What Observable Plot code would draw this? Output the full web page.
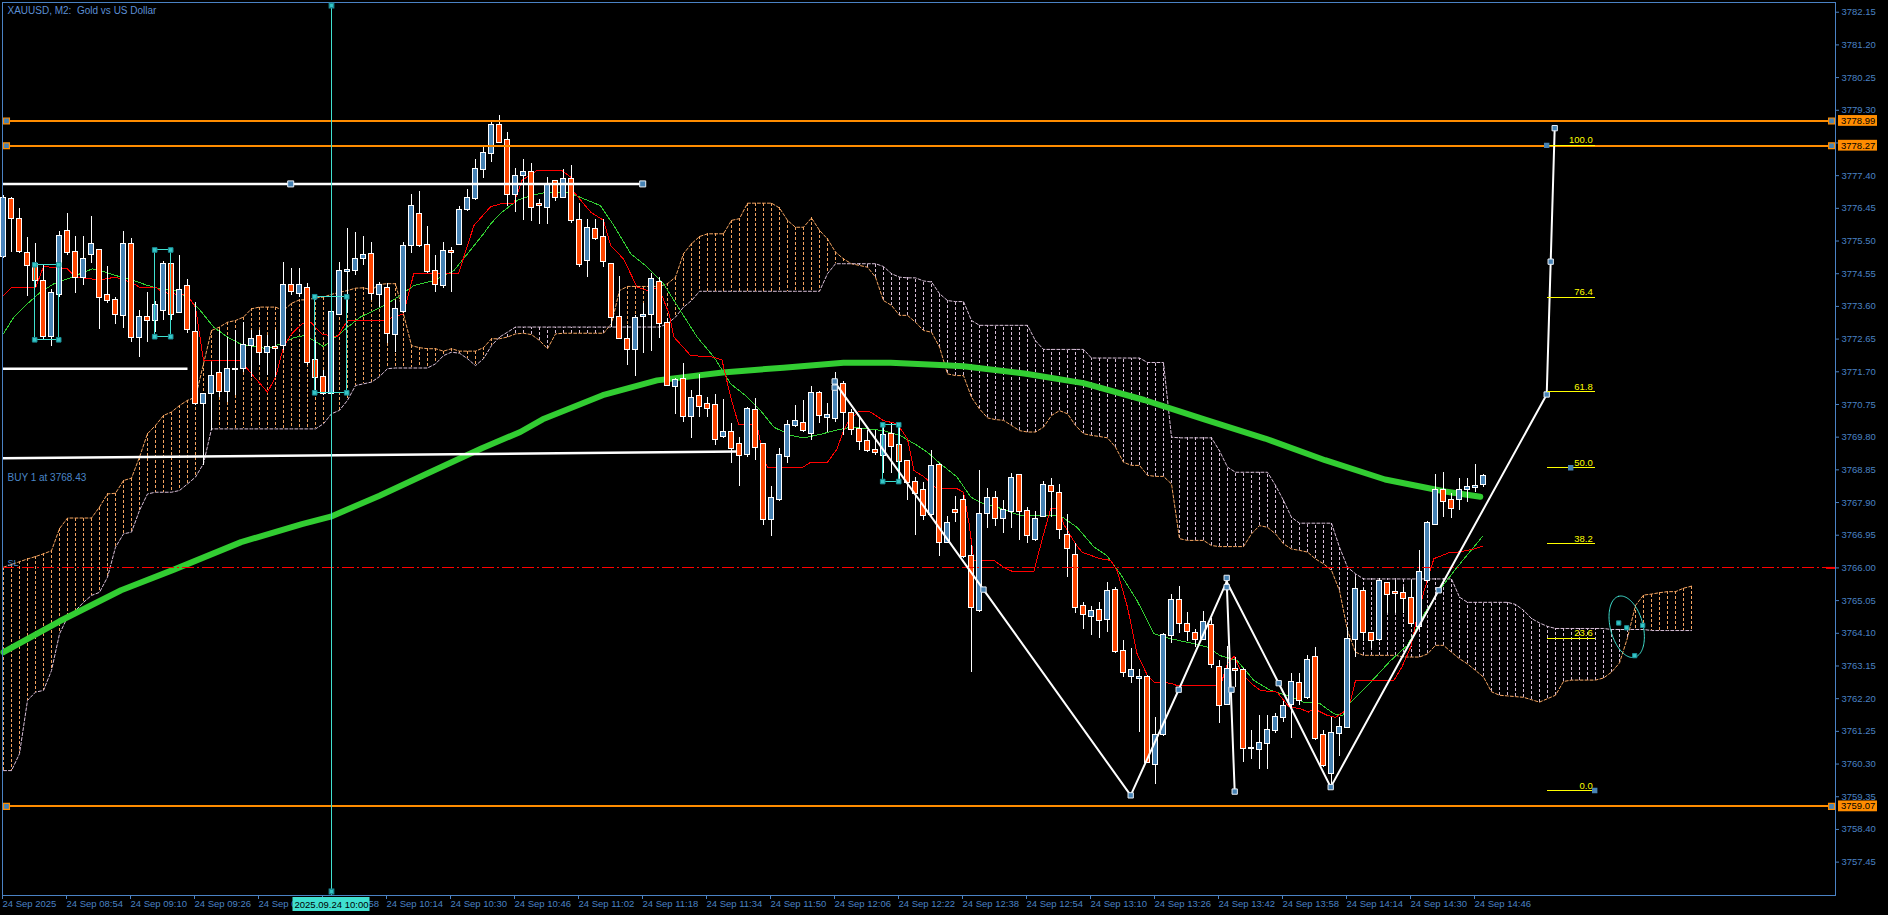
<!DOCTYPE html>
<html><head><meta charset="utf-8">
<script src="https://cdn.jsdelivr.net/npm/d3@7"></script>
<script src="https://cdn.jsdelivr.net/npm/@observablehq/plot@0.6"></script>
<style>
html,body{margin:0;padding:0;background:#000;overflow:hidden;}
#chart{width:1888px;height:915px;}
</style></head><body><div id="chart"></div>
<script>
// ---------- DATA (bar index 0 = 24 Sep 08:38, M2 bars) ----------
const openP = [3775.05,3776.72,3776.15,3775.16,3774.82,3774.33,3772.71,3773.94,3775.80,3775.19,
3774.43,3775.10,3775.24,3773.94,3773.79,3773.33,3775.42,3772.69,3773.29,3773.18,
3773.47,3774.84,3773.41,3774.20,3772.86,3770.75,3771.06,3771.67,3771.11,3771.79,
3771.79,3772.44,3772.75,3772.25,3772.42,3772.44,3774.23,3773.97,3774.14,3772.05,
3771.55,3771.06,3773.36,3774.61,3774.62,3774.98,3775.13,3773.94,3774.14,3772.77,
3773.43,3775.37,3776.29,3775.39,3774.62,3774.18,3775.22,3775.39,3776.41,3776.73,
3777.57,3778.03,3778.88,3778.44,3776.84,3777.38,3777.50,3776.58,3776.46,3777.23,
3776.76,3777.31,3776.10,3774.93,3775.85,3775.63,3774.84,3773.29,3772.66,3772.34,
3773.28,3773.34,3774.31,3773.11,3771.27,3771.50,3770.40,3770.99,3770.77,3770.74,
3769.80,3769.95,3769.59,3769.29,3770.59,3769.61,3767.40,3767.96,3769.22,3770.12,
3770.22,3769.90,3771.09,3770.36,3770.33,3771.35,3770.50,3770.04,3769.70,3769.43,
3769.24,3769.90,3769.58,3769.10,3768.51,3768.25,3767.54,3768.98,3766.73,3767.69,
3767.98,3766.36,3764.76,3767.57,3768.03,3767.43,3767.62,3768.69,3767.64,3766.80,
3767.47,3768.37,3768.17,3766.96,3766.38,3764.88,3764.57,3764.78,3764.49,3765.36,
3763.58,3762.84,3762.77,3762.84,3760.28,3761.13,3764.01,3765.07,3764.37,3764.11,
3763.91,3764.35,3763.13,3762.02,3763.07,3763.02,3760.74,3760.71,3760.89,3761.27,
3761.64,3762.02,3762.65,3762.22,3763.41,3761.15,3760.02,3761.18,3761.34,3763.91,
3765.34,3764.11,3763.91,3765.56,3765.30,3765.28,3765.12,3764.28,3765.63,3767.26,
3768.25,3767.96,3767.96,3768.27,3768.33,3768.40];
const highP = [3776.82,3776.76,3776.44,3775.61,3775.42,3774.79,3774.09,3775.78,3776.29,3775.63,
3775.63,3776.21,3775.24,3774.76,3773.85,3775.78,3775.58,3773.48,3773.99,3773.75,
3774.90,3774.86,3775.08,3774.39,3773.71,3771.08,3771.98,3772.90,3772.69,3772.90,
3773.14,3772.90,3772.90,3772.75,3772.90,3774.87,3774.69,3774.69,3774.28,3772.61,
3771.74,3773.87,3774.87,3775.87,3775.74,3775.63,3775.47,3774.30,3774.28,3773.77,
3775.47,3776.84,3776.94,3775.92,3775.08,3775.45,3775.32,3776.50,3776.99,3777.86,
3778.23,3779.00,3779.15,3778.66,3777.60,3777.87,3777.74,3776.70,3777.34,3777.26,
3777.57,3777.69,3776.58,3776.14,3776.14,3776.14,3774.86,3774.47,3773.05,3773.34,
3773.68,3774.57,3774.45,3773.24,3771.50,3771.93,3771.17,3771.61,3770.96,3771.03,
3770.89,3770.19,3769.80,3770.67,3770.91,3769.61,3768.37,3769.46,3770.28,3770.72,
3770.87,3771.27,3771.14,3770.77,3771.67,3771.42,3770.59,3770.36,3769.99,3769.99,
3770.14,3770.19,3770.19,3769.12,3768.64,3768.49,3769.41,3769.03,3767.48,3768.08,
3768.10,3766.65,3768.83,3768.32,3768.22,3767.96,3768.75,3768.69,3767.77,3767.64,
3768.51,3768.59,3768.42,3767.54,3766.70,3765.00,3764.88,3765.00,3765.59,3765.44,
3763.89,3763.65,3763.04,3762.87,3761.66,3764.08,3765.22,3765.46,3764.69,3764.20,
3764.74,3764.52,3763.31,3763.71,3763.41,3763.07,3761.27,3761.71,3761.71,3761.76,
3762.13,3762.92,3762.92,3763.46,3763.70,3761.27,3761.66,3761.66,3764.28,3765.71,
3765.39,3764.13,3765.68,3765.59,3765.63,3765.44,3765.63,3766.51,3767.36,3768.72,
3768.78,3768.15,3768.59,3768.59,3769.00,3768.72];
const lowP = [3774.98,3775.18,3775.15,3773.89,3774.16,3772.61,3772.44,3773.87,3775.08,3773.97,
3774.21,3774.84,3772.94,3773.69,3773.07,3772.95,3772.56,3772.11,3772.54,3772.85,
3773.19,3773.19,3773.38,3772.80,3770.72,3768.98,3769.99,3770.96,3770.82,3771.00,
3771.69,3771.54,3771.88,3771.59,3771.54,3772.32,3773.92,3773.87,3771.88,3771.16,
3771.01,3770.77,3773.34,3773.38,3774.50,3774.79,3773.77,3773.58,3772.51,3772.27,
3773.38,3775.13,3775.32,3774.55,3774.01,3774.11,3774.01,3775.37,3776.36,3776.68,
3777.31,3777.79,3778.33,3776.50,3776.32,3776.10,3776.08,3775.97,3775.97,3776.66,
3776.73,3776.00,3774.74,3774.43,3775.52,3774.74,3772.99,3772.63,3771.88,3771.57,
3772.24,3772.30,3772.66,3771.27,3770.45,3770.24,3769.75,3770.38,3770.38,3769.57,
3769.77,3769.03,3768.37,3769.22,3769.12,3767.23,3766.91,3767.93,3769.03,3770.09,
3769.95,3769.70,3770.19,3769.95,3770.24,3769.85,3769.85,3769.41,3769.34,3769.27,
3768.73,3768.73,3768.54,3767.96,3766.94,3767.38,3767.48,3766.33,3766.70,3767.33,
3766.26,3762.97,3764.71,3767.14,3767.19,3766.99,3767.15,3766.80,3766.70,3766.78,
3767.46,3767.47,3766.82,3765.73,3764.67,3764.20,3764.04,3763.94,3764.13,3763.52,
3762.82,3762.65,3761.23,3760.31,3759.70,3761.10,3763.79,3764.08,3763.87,3763.70,
3763.89,3763.07,3761.49,3762.00,3762.53,3760.35,3760.42,3760.13,3760.13,3761.18,
3761.52,3761.03,3762.00,3762.19,3760.98,3760.21,3759.68,3760.52,3761.32,3763.41,
3763.87,3763.65,3763.87,3764.67,3764.67,3764.67,3764.28,3764.18,3765.59,3767.23,
3767.47,3767.43,3767.67,3767.91,3768.20,3768.35];
const closeP = [3776.76,3776.15,3775.18,3774.77,3774.33,3772.71,3773.99,3775.66,3775.16,3774.43,
3774.98,3775.42,3773.85,3773.76,3773.34,3775.42,3772.69,3773.30,3773.19,3773.65,
3774.84,3773.36,3774.07,3772.92,3770.77,3771.06,3771.58,3771.11,3771.79,3771.74,
3772.48,3772.66,3772.25,3772.42,3772.37,3774.23,3774.01,3774.23,3771.96,3771.53,
3771.06,3773.44,3774.62,3774.66,3774.98,3775.10,3773.97,3774.23,3772.80,3773.53,
3775.37,3776.52,3775.36,3774.60,3774.21,3775.22,3775.16,3776.39,3776.76,3777.60,
3778.06,3778.88,3778.35,3776.84,3777.40,3777.50,3776.46,3776.52,3777.16,3776.76,
3777.31,3776.07,3774.79,3775.88,3775.56,3774.89,3773.26,3772.66,3772.34,3773.27,
3773.36,3774.40,3773.09,3771.30,3771.45,3770.40,3770.94,3770.69,3770.62,3769.72,
3769.95,3769.46,3769.24,3770.61,3769.48,3767.40,3768.04,3769.29,3770.16,3770.28,
3769.99,3771.09,3770.41,3770.45,3771.43,3770.50,3770.01,3769.65,3769.39,3769.34,
3769.85,3769.51,3769.09,3768.47,3768.15,3767.52,3768.95,3766.73,3767.30,3767.60,
3766.33,3764.83,3767.57,3768.03,3767.43,3767.69,3768.62,3767.62,3766.92,3767.43,
3768.41,3768.22,3767.11,3766.55,3764.84,3764.62,3764.76,3764.47,3765.33,3763.57,
3762.94,3763.02,3762.84,3760.33,3761.15,3764.06,3765.07,3764.36,3764.15,3763.91,
3764.44,3763.19,3762.00,3763.07,3762.99,3760.74,3760.77,3760.92,3761.30,3761.68,
3762.00,3762.68,3762.12,3763.31,3761.03,3760.23,3761.21,3761.37,3763.94,3765.39,
3764.10,3763.89,3765.63,3765.20,3765.25,3765.10,3764.37,3765.88,3767.31,3768.25,
3767.91,3767.72,3768.27,3768.35,3768.39,3768.66];

// Ichimoku Senkou span A / B, bars 0..211 (26 bars projected forward)
const spanA = [3766.02,3766.10,3766.18,3766.26,3766.33,3766.41,3766.50,3767.14,3767.45,3767.45,
3767.45,3767.45,3767.77,3768.15,3768.17,3768.54,3768.61,3769.22,3769.90,3770.14,
3770.43,3770.53,3770.72,3770.87,3770.96,3771.93,3772.90,3773.00,3773.14,3773.19,
3773.29,3773.53,3773.58,3773.58,3773.58,3773.48,3773.69,3773.79,3773.79,3773.85,
3773.87,3773.95,3774.01,3774.06,3774.13,3774.14,3774.08,3774.24,3774.26,3774.26,
3773.38,3772.46,3772.40,3772.37,3772.37,3772.30,3772.37,3772.30,3772.30,3772.30,
3772.40,3772.66,3772.66,3772.71,3772.80,3772.82,3772.78,3772.61,3772.37,3772.80,
3772.82,3772.82,3772.82,3772.82,3772.82,3772.82,3773.10,3774.06,3774.18,3774.18,
3774.18,3774.18,3774.18,3774.26,3774.45,3775.13,3775.42,3775.63,3775.71,3775.71,
3775.71,3776.10,3776.15,3776.60,3776.60,3776.60,3776.60,3776.46,3776.10,3775.90,
3775.90,3776.17,3775.81,3775.56,3775.18,3774.98,3774.84,3774.79,3774.74,3774.45,
3773.77,3773.63,3773.34,3773.34,3773.14,3772.90,3772.85,3772.42,3771.64,3771.59,
3771.59,3770.96,3770.62,3770.36,3770.31,3770.29,3770.14,3769.99,3769.95,3769.95,
3770.09,3770.43,3770.57,3770.48,3770.14,3769.90,3769.85,3769.82,3769.78,3769.51,
3769.07,3768.98,3768.98,3768.69,3768.66,3768.66,3768.44,3766.85,3766.80,3766.80,
3766.80,3766.65,3766.62,3766.62,3766.62,3766.62,3766.99,3767.23,3767.18,3766.99,
3766.70,3766.55,3766.51,3766.46,3766.26,3766.12,3765.93,3765.34,3764.18,3763.55,
3763.46,3763.46,3763.46,3763.46,3763.46,3763.41,3763.41,3763.41,3763.50,3763.75,
3763.75,3763.55,3763.36,3763.21,3763.02,3762.83,3762.40,3762.30,3762.28,3762.26,
3762.24,3762.17,3762.10,3762.20,3762.30,3762.70,3762.74,3762.74,3762.74,3762.74,
3762.80,3762.97,3763.24,3763.97,3764.91,3765.21,3765.24,3765.28,3765.31,3765.31,
3765.41,3765.47];
const spanB = [3760.11,3760.11,3760.60,3762.15,3762.39,3762.44,3763.02,3764.08,3764.57,3764.76,
3765.00,3765.20,3765.29,3765.73,3766.60,3766.99,3767.04,3767.67,3768.15,3768.20,
3768.20,3768.20,3768.25,3768.44,3768.64,3769.03,3770.04,3770.04,3770.04,3770.04,
3770.04,3770.04,3770.04,3770.04,3770.04,3770.04,3770.04,3770.04,3770.04,3770.04,
3770.19,3770.48,3770.58,3770.87,3771.30,3771.35,3771.40,3771.56,3771.79,3771.81,
3771.81,3771.81,3771.81,3771.81,3771.93,3772.17,3772.27,3772.24,3772.08,3771.88,
3772.08,3772.46,3772.71,3772.85,3773.00,3773.00,3773.00,3773.00,3773.00,3773.00,
3773.00,3773.00,3773.00,3773.00,3773.00,3773.00,3773.00,3773.00,3773.00,3773.00,
3773.00,3773.00,3773.00,3773.10,3773.29,3773.58,3773.77,3774.04,3774.04,3774.04,
3774.04,3774.04,3774.04,3774.04,3774.04,3774.04,3774.04,3774.04,3774.04,3774.04,
3774.04,3774.04,3774.04,3774.55,3774.84,3774.84,3774.84,3774.84,3774.84,3774.84,
3774.76,3774.55,3774.45,3774.43,3774.43,3774.34,3774.31,3773.97,3773.77,3773.74,
3773.74,3773.19,3773.05,3773.05,3773.05,3773.05,3773.05,3773.05,3773.05,3772.60,
3772.35,3772.35,3772.35,3772.35,3772.35,3772.35,3772.10,3772.10,3772.10,3772.10,
3772.10,3772.10,3772.10,3771.97,3771.97,3771.97,3769.80,3769.78,3769.78,3769.78,
3769.78,3769.78,3769.40,3768.93,3768.78,3768.78,3768.78,3768.78,3768.78,3768.40,
3767.96,3767.47,3767.30,3767.30,3767.30,3767.30,3767.30,3766.60,3766.02,3765.83,
3765.68,3765.68,3765.68,3765.68,3765.68,3765.68,3765.68,3765.68,3765.68,3765.68,
3765.68,3765.68,3765.15,3765.00,3765.00,3765.00,3765.00,3765.00,3765.00,3764.94,
3764.77,3764.53,3764.40,3764.30,3764.24,3764.24,3764.24,3764.24,3764.24,3764.24,
3764.24,3764.21,3764.21,3764.21,3764.21,3764.21,3764.18,3764.18,3764.18,3764.18,
3764.18,3764.18];

// thin red (step-like) line, read as [bar, price]
const redLine = [[0,3773.92],[1,3774.14],[4,3774.14],[5,3774.76],[8,3774.69],[9,3774.45],[12,3774.37],[14,3774.45],[16,3774.30],[17,3774.16],[19,3774.16],[20,3774.0],[23,3773.92],[24,3773.58],[25,3772.03],[29.6,3772.03],[31,3771.64],[33,3771.11],[34,3771.54],[35,3772.42],[36,3772.80],[37.3,3773.09],[38.4,3773.14],[39.8,3772.80],[41.7,3772.71],[43,3773.19],[47.5,3773.19],[50,3773.38],[51.3,3774.57],[56.9,3774.57],[58.8,3775.95],[60.9,3776.50],[62.5,3776.60],[63.8,3776.60],[64.8,3777.26],[66.7,3777.55],[69.8,3777.55],[70.9,3777.36],[71.3,3776.92],[73.4,3776.34],[75,3776.10],[75.9,3775.37],[77.5,3774.98],[79.2,3774.16],[80.5,3774.06],[81.9,3774.16],[83.2,3773.38],[83.8,3772.71],[85.9,3772.17],[88.4,3772.14],[89.8,3772.05],[90.9,3770.96],[91.9,3770.16],[94.2,3770.16],[95,3769.17],[95.5,3768.93],[99.8,3768.91],[100.9,3769.07],[103,3769.07],[104.2,3769.46],[105,3769.99],[105.7,3770.28],[106.9,3770.55],[108.4,3770.53],[110,3770.28],[111.7,3770.19],[113,3769.75],[113.8,3768.83],[115,3768.66],[116.7,3768.30],[119.2,3768.30],[120,3768.20],[120.7,3767.28],[121.3,3766.22],[123.8,3766.22],[125,3766.02],[126,3765.91],[128.8,3765.91],[129.8,3766.80],[130.9,3767.72],[132,3767.72],[132.5,3767.28],[134,3766.70],[134.8,3766.46],[137,3766.27],[138.4,3766.22],[139.2,3765.92],[140.5,3764.86],[141.7,3763.50],[143,3762.87],[143.8,3762.68],[145.9,3762.65],[146.7,3762.58],[152.1,3762.58],[153,3763.21],[153.8,3763.43],[155,3762.87],[156.3,3762.58],[157.1,3762.44],[159.2,3762.39],[160.7,3761.96],[162.1,3761.91],[163.1,3761.81],[163.8,3761.91],[165.5,3761.71],[166.5,3761.66],[167.5,3761.81],[168.4,3762.15],[169,3762.73],[173.8,3762.73],[174.8,3763.12],[175.9,3763.70],[176.7,3764.57],[177.6,3765.35],[178.8,3766.27],[180.9,3766.46],[181.8,3766.46],[183,3766.51],[183.8,3766.55],[184.9,3766.63]];
// thin green moving average, read as [bar, price]
const greenLine = [[0,3772.81],[1.3,3773.29],[3,3773.68],[4.6,3774.01],[6.3,3774.26],[8,3774.40],[9.6,3774.55],[11.1,3774.69],[12.1,3774.64],[14,3774.50],[16.3,3774.35],[18,3774.21],[19.6,3774.11],[21.7,3774.06],[23.4,3773.77],[24.6,3773.48],[26.3,3772.99],[28,3772.71],[29.6,3772.51],[31.3,3772.43],[33,3772.37],[34.6,3772.51],[36.3,3772.69],[37.5,3772.75],[38.8,3772.61],[40,3772.43],[41.7,3772.75],[43,3772.99],[44.6,3773.29],[46.3,3773.48],[48,3773.68],[49.6,3773.92],[51.3,3774.21],[53.8,3774.35],[56.3,3774.64],[58,3775.13],[60,3775.71],[60.9,3776.0],[62.1,3776.30],[64.2,3776.68],[65.9,3776.82],[67.9,3776.92],[70.5,3776.92],[72.1,3776.77],[74.6,3776.53],[76.3,3775.95],[78.4,3775.13],[80.5,3774.74],[82.5,3774.26],[84.6,3773.48],[86.7,3772.71],[88.8,3772.13],[90.9,3771.35],[93,3770.96],[94.6,3770.58],[96.3,3770.09],[98.4,3769.85],[100,3769.78],[102.1,3769.88],[104.2,3770.01],[105.9,3770.09],[108,3770.04],[110,3769.99],[112.1,3769.85],[114.2,3769.56],[115.5,3769.36],[117.1,3769.03],[119.2,3768.64],[120.9,3768.06],[122.5,3767.86],[124.4,3767.75],[127.1,3767.52],[132.1,3767.52],[134.2,3767.18],[136.3,3766.61],[137.9,3766.36],[139.6,3765.83],[141.7,3765.05],[143.8,3764.09],[145.9,3763.94],[148,3763.84],[150.5,3763.70],[152.1,3763.45],[154.2,3763.31],[156.3,3762.73],[158.4,3762.44],[160.5,3762.29],[162.5,3762.10],[164.6,3762.05],[166.3,3761.76],[167.4,3761.71],[168.4,3762.10],[170.9,3762.68],[173.4,3763.31],[175.5,3763.75],[177.6,3764.67],[179.6,3765.39],[181.7,3766.02],[183.8,3766.61],[184.9,3766.92]];
// thick green long moving average
const maLong = [[0,3763.55],[7,3764.45],[14.7,3765.35],[21.3,3765.95],[29.7,3766.75],[37.3,3767.27],[40.9,3767.49],[47,3768.10],[52.3,3768.67],[59.8,3769.48],[64.6,3769.95],[67.4,3770.32],[74.9,3771.02],[81.7,3771.45],[89.9,3771.68],[97.5,3771.82],[105,3771.96],[110.9,3771.96],[117,3771.90],[120,3771.86],[127.6,3771.65],[135,3771.37],[142.6,3770.88],[147,3770.55],[150.1,3770.32],[157.7,3769.76],[165.2,3769.13],[172.7,3768.57],[180.2,3768.22],[184.6,3768.07]];

// objects
const orangeLevels = [3778.99, 3778.27, 3759.07];
const slLevel = 3766.00;
const buyPrice = 3768.43;
const whiteSegments = [
  {x1: -0.125, y1: 3777.16, x2: 79.9, y2: 3777.16},
  {x1: -0.125, y1: 3771.79, x2: 23.0, y2: 3771.79},
  {x1: -0.125, y1: 3769.19, x2: 91.7, y2: 3769.38}
];
const whiteAnchors = [[35.9, 3777.16], [79.9, 3777.16]];
const zigPaths = [
  {id: "a", pts: [[103.9,3771.40],[122.5,3765.37],[140.9,3759.39],[146.9,3762.46],[152.9,3765.60]]},
  {id: "b", pts: [[152.9,3765.60],[153.9,3759.50]]},
  {id: "c", pts: [[152.9,3765.60],[159.4,3762.65],[165.9,3759.63],[179.4,3765.35],[192.9,3771.04],[193.9,3778.78]]}
];
const zigAnchors = [[103.9,3771.42],[103.9,3771.24],[122.5,3765.37],[140.9,3759.39],[146.9,3762.46],[152.9,3765.71],[152.9,3765.44],[153.5,3762.46],[153.9,3759.50],[159.4,3762.65],[165.9,3759.63],[179.4,3765.35],[192.9,3771.04],[193.4,3774.90],[193.9,3778.78]];
const cyanRects = [
  {x1: 3.9, x2: 6.9, y1: 3772.63, y2: 3774.81},
  {x1: 18.9, x2: 20.9, y1: 3772.72, y2: 3775.24},
  {x1: 38.9, x2: 42.9, y1: 3771.09, y2: 3773.88},
  {x1: 109.9, x2: 111.9, y1: 3768.51, y2: 3770.16}
];
const cursorBar = 41;
const cursorLabel = "2025.09.24 10:00";
const fibLabels = ["0.0","23.6","38.2","50.0","61.8","76.4","100.0"];
const fibPrices = [3759.53,3763.96,3766.70,3768.91,3771.12,3773.86,3778.29];
const fibX = [193.0, 198.96];
const fibAnchors = [[192.9,3778.28],[195.9,3768.91],[198.9,3759.53]];
const ellipse = {cx: 202.9, cy: 3764.29, a: 31.5, b: 16.3, ux: -0.254, uy: -0.967};
const ellipseAnchors = [[201.9,3764.40],[202.9,3764.26],[204.9,3764.33],[203.9,3763.45]];

const yTicks = [3782.15,3781.20,3780.25,3779.30,3778.35,3777.40,3776.45,3775.50,3774.55,3773.60,3772.65,3771.70,3770.75,3769.80,3768.85,3767.90,3766.95,3766.00,3765.05,3764.10,3763.15,3762.20,3761.25,3760.30,3759.35,3758.40,3757.45];
const xTickBars = [0,8,16,24,32,40,48,56,64,72,80,88,96,104,112,120,128,136,144,152,160,168,176,184];
const xTickLabels = ["24 Sep 2025","24 Sep 08:54","24 Sep 09:10","24 Sep 09:26","24 Sep 09:42","24 Sep 09:58","24 Sep 10:14","24 Sep 10:30","24 Sep 10:46","24 Sep 11:02","24 Sep 11:18","24 Sep 11:34","24 Sep 11:50","24 Sep 12:06","24 Sep 12:22","24 Sep 12:38","24 Sep 12:54","24 Sep 13:10","24 Sep 13:26","24 Sep 13:42","24 Sep 13:58","24 Sep 14:14","24 Sep 14:30","24 Sep 14:46"];
const title = "XAUUSD, M2:\u00a0 Gold vs US Dollar";

// ---------- build ----------
const xDomain = [-0.125, 229];
const yDomain = [3756.48, 3782.432];
const W = 1888, H = 915, ML = 2, MR = 53, MT = 2, MB = 20;
const pxPerBar = (W - ML - MR) / (xDomain[1] - xDomain[0]);
const pxPerPrice = (H - MT - MB) / (yDomain[1] - yDomain[0]);
const barAtPx = px => xDomain[0] + (px - ML) / pxPerBar;
const priceAtPx = py => yDomain[1] - (py - MT) / pxPerPrice;

const axisColor = "#4a82c4";
const bull = "#4682B4", bear = "#FF4500";
const cyan = "#40E0D0";
const crisp = "crispEdges";
const candles = openP.map((o, i) => ({i, o, h: highP[i], l: lowP[i], c: closeP[i]}));
const cloud = spanA.map((a, i) => ({i, a, b: spanB[i]}));
const ellPts = d3.range(0, 2 * Math.PI + 0.05, 0.05).map(t => {
  const vx = -ellipse.uy, vy = ellipse.ux;
  const dx = ellipse.a * Math.cos(t) * ellipse.ux + ellipse.b * Math.sin(t) * (-vx);
  const dy = ellipse.a * Math.cos(t) * ellipse.uy + ellipse.b * Math.sin(t) * (-vy);
  return [ellipse.cx + dx / pxPerBar, ellipse.cy - dy / pxPerPrice];
});
const zigData = zigPaths.flatMap(p => p.pts.map(q => ({id: p.id, x: q[0], y: q[1]})));
const rectCorners = cyanRects.flatMap(r => [[r.x1,r.y1],[r.x2,r.y1],[r.x1,r.y2],[r.x2,r.y2]]);
const half = 0.3;
const boxHalf = 5.4 / pxPerPrice;

const chart = Plot.plot({
  width: W, height: H,
  marginLeft: ML, marginRight: MR, marginTop: MT, marginBottom: MB,
  x: {domain: xDomain},
  y: {domain: yDomain},
  style: {background: "#000", color: axisColor, fontFamily: "'Liberation Sans', Arial, sans-serif", fontSize: "9.5px", overflow: "visible"},
  marks: [
    // ichimoku cloud hatching and borders
    Plot.ruleX(cloud, {x: "i", y1: "a", y2: "b", stroke: d => d.a >= d.b ? "#F4A460" : "#D8BFD8", strokeDasharray: "3,2", strokeWidth: 1, shapeRendering: crisp}),
    Plot.line(cloud, {x: "i", y: "a", stroke: "#F4A460", strokeDasharray: "3,2", strokeWidth: 1}),
    Plot.line(cloud, {x: "i", y: "b", stroke: "#D8BFD8", strokeDasharray: "3,2", strokeWidth: 1}),
    // moving averages
    Plot.line(maLong, {stroke: "#32CD32", strokeWidth: 6}),
    Plot.line(greenLine, {stroke: "#32CD32", strokeWidth: 1, shapeRendering: crisp}),
    Plot.line(redLine, {stroke: "#FF0000", strokeWidth: 1, shapeRendering: crisp}),
    // candles
    Plot.ruleX(candles, {x: "i", y1: "l", y2: "h", stroke: "#ffffff", strokeWidth: 1, shapeRendering: crisp}),
    Plot.rect(candles, {x1: d => d.i - half, x2: d => d.i + half, y1: d => Math.min(d.o, d.c), y2: d => Math.max(d.o, d.c),
      fill: d => d.c >= d.o ? bull : bear, stroke: "#ffffff", strokeWidth: 1, shapeRendering: crisp}),
    // horizontal levels
    Plot.ruleY(orangeLevels, {stroke: "#FF8C00", strokeWidth: 2, shapeRendering: crisp}),
    Plot.ruleY([slLevel], {stroke: "#FF0000", strokeWidth: 1, strokeDasharray: "12,3,2,3", shapeRendering: crisp}),
    Plot.link(whiteSegments, {x1: "x1", y1: "y1", x2: "x2", y2: "y2", stroke: "#ffffff", strokeWidth: 2.5}),
    Plot.dot(whiteAnchors, {symbol: "square", r: 3.4, fill: bull, stroke: "#e8eef5", strokeWidth: 1}),
    // cyan objects
    Plot.ruleX([cursorBar], {stroke: cyan, strokeWidth: 1, shapeRendering: crisp}),
    Plot.rect(cyanRects, {x1: "x1", x2: "x2", y1: "y1", y2: "y2", fill: "none", stroke: cyan, strokeWidth: 1, shapeRendering: crisp}),
    Plot.dot(rectCorners, {symbol: "square", r: 2.6, fill: "#35c6c6", stroke: "#1b8d96", strokeWidth: 1}),
    Plot.line(ellPts, {stroke: cyan, strokeWidth: 1}),
    Plot.dot(ellipseAnchors, {symbol: "square", r: 2.4, fill: "#35c6c6", stroke: "#1b8d96", strokeWidth: 1}),
    // zigzag
    Plot.line(zigData, {x: "x", y: "y", z: "id", stroke: "#ffffff", strokeWidth: 2}),
    Plot.dot(zigAnchors, {symbol: "square", r: 3, fill: bull, stroke: "#e8eef5", strokeWidth: 1}),
    // fibonacci
    Plot.ruleY(fibPrices, {x1: fibX[0], x2: fibX[1], stroke: "#FFFF00", strokeWidth: 1, shapeRendering: crisp}),
    Plot.text(fibPrices, {x: fibX[1] - 0.3, y: d => d, text: (d, i) => fibLabels[i], textAnchor: "end", lineAnchor: "bottom", dy: -2, fill: "#FFFF00", fontSize: 9.5}),
    Plot.dot(fibAnchors, {symbol: "square", r: 2.2, fill: bull, stroke: bull}),
    // orange level anchors
    Plot.dot(orangeLevels, {x: barAtPx(6), y: d => d, symbol: "square", r: 3.3, fill: bull, stroke: "#FF8C00", strokeWidth: 1.2}),
    Plot.dot(orangeLevels, {x: barAtPx(1831), y: d => d, symbol: "square", r: 3.3, fill: bull, stroke: "#FF8C00", strokeWidth: 1.2}),
    // texts in chart
    Plot.text([title], {frameAnchor: "top-left", dx: 5, dy: 4, textAnchor: "start", lineAnchor: "top", fill: "#5c8fd4", fontSize: 10}),
    Plot.text(["BUY 1 at 3768.43"], {x: xDomain[0], y: buyPrice, dx: 5, dy: -7, textAnchor: "start", fill: "#4a86c8", fontSize: 10}),
    Plot.text(["SL"], {x: xDomain[0], y: slLevel, dx: 5, dy: -5, textAnchor: "start", fill: "#4a86c8", fontSize: 9}),
    // frame and axes
    Plot.frame({stroke: axisColor, shapeRendering: crisp}),
    Plot.axisY(yTicks, {anchor: "right", tickSize: 3, tickPadding: 3, tickFormat: d => d.toFixed(2), fill: axisColor, stroke: axisColor}),
    Plot.axisX(xTickBars, {anchor: "bottom", tickSize: 4, tickPadding: 1, textAnchor: "start", dx: -1, tickFormat: d => xTickLabels[xTickBars.indexOf(d)], fill: axisColor, stroke: axisColor}),
    Plot.ruleY([slLevel], {x1: barAtPx(1826), x2: xDomain[1], stroke: "#FF0000", strokeWidth: 2}),
    // price labels for orange levels
    Plot.rect(orangeLevels, {x1: barAtPx(1838), x2: barAtPx(1877), y1: d => d - boxHalf, y2: d => d + boxHalf, fill: "#FF8C00"}),
    Plot.text(orangeLevels, {x: barAtPx(1840.5), y: d => d, text: d => d.toFixed(2), textAnchor: "start", fill: "#000000"}),
    // cursor date label and end squares
    Plot.rect([cursorBar], {x1: d => d - 38.5 / pxPerBar, x2: d => d + 38.5 / pxPerBar, y1: priceAtPx(911), y2: priceAtPx(897), fill: cyan}),
    Plot.text([cursorLabel], {x: cursorBar, y: priceAtPx(904), fill: "#000000", fontSize: 9.5}),
    Plot.dot([cursorBar], {x: d => d, y: priceAtPx(5), symbol: "square", r: 2.4, fill: "#35c6c6", stroke: "#1b8d96"}),
    Plot.dot([cursorBar], {x: d => d, y: priceAtPx(891), symbol: "square", r: 2.4, fill: "#35c6c6", stroke: "#1b8d96"})
  ]
});
document.getElementById("chart").appendChild(chart);
</script></body></html>
